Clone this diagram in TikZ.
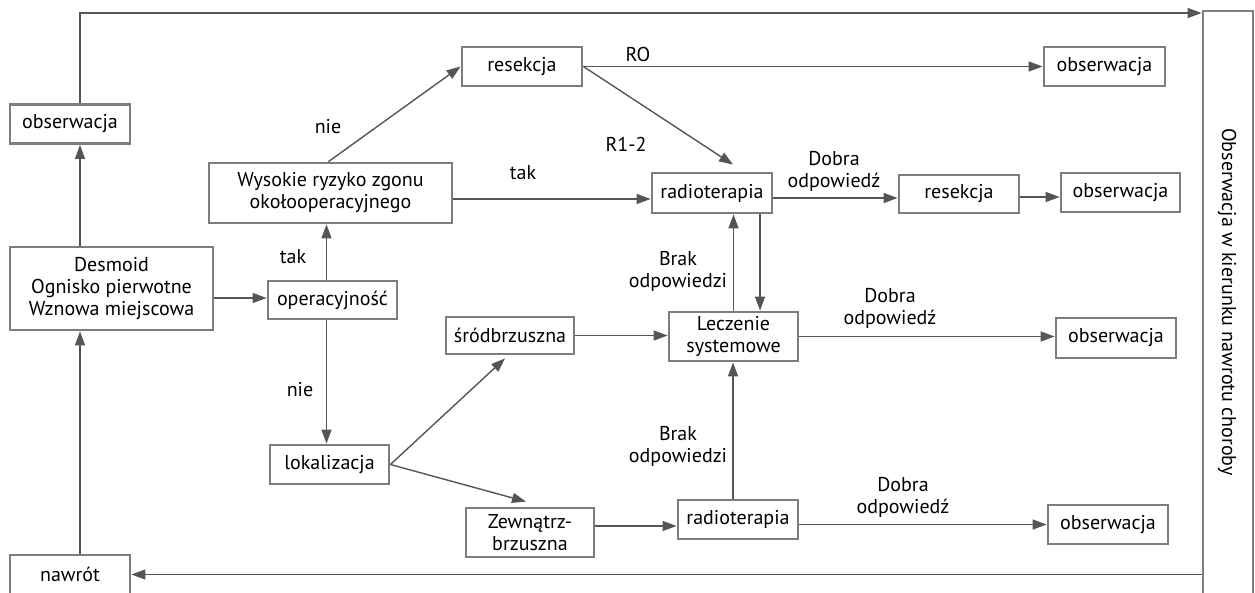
\documentclass[tikz,border=0pt]{standalone}
\usepackage{fontspec}
\setmainfont{PT Sans}
\usetikzlibrary{arrows.meta}
\definecolor{boxgray}{HTML}{7D7D7D}
\definecolor{linegray}{HTML}{555555}
\tikzset{
	flownode/.style = {
		align=center,
		inner sep=0pt,
		text centered,
		text=black
	},
	node_box/.style = {
		flownode,
		rectangle,
		draw=boxgray,
		line width=2.8pt,
		fill=white,
		minimum height=39pt
	},
	node_side/.style = {
		node_box,
		minimum width=50pt,
		minimum height=590pt
	},
	node_lbl/.style = {
		flownode
	},
	edge_line/.style = {
		draw=linegray,
		line width=1.4pt
	},
}
\begin{document}
\begin{tikzpicture}[x=1pt, y=-1pt, ->, >={Triangle[length=14pt,width=10pt]}, font=\fontsize{20}{22}\selectfont]
\useasboundingbox (0,0) rectangle (1255,592);
% boxes
\node [node_side] (obsbox) at (1228,306) {};
\node [node_lbl, rotate=-90] (obsboxtxt) at (1227,302) {Obserwacja w kierunku nawrotu choroby};
\node [node_box, minimum width=120pt] (obsL) at (70,124) {obserwacja};
\node [node_box, minimum width=243pt, minimum height=60pt] (wysokie) at (330.5,193) {Wysokie ryzyko zgonu\\okołooperacyjnego};
\node [node_box, minimum width=203pt, minimum height=83pt] (desmoid) at (111.5,288.5) {Desmoid\\Ognisko pierwotne\\Wznowa miejscowa};
\node [node_box, minimum width=129pt, minimum height=38pt] (oper) at (332.5,300) {operacyjność};
\node [node_box, minimum width=119pt] (lok) at (329.5,464.5) {lokalizacja};
\node [node_box, minimum width=120pt] (nawrot) at (70,574.5) {nawrót};
\node [node_box, minimum width=120pt] (res1) at (522,66.5) {resekcja};
\node [node_box, minimum width=120pt, minimum height=40pt] (radio1) at (712,193) {radioterapia};
\node [node_box, minimum width=121pt] (obs1) at (1104.5,66.5) {obserwacja};
\node [node_box, minimum width=120pt, minimum height=38pt] (res2) at (959,194) {resekcja};
\node [node_box, minimum width=119pt] (obs2) at (1120.5,192.5) {obserwacja};
\node [node_box, minimum width=129pt, minimum height=49pt] (lecz) at (733.5,336.5) {Leczenie\\systemowe};
\node [node_box, minimum width=128pt, minimum height=37pt] (srod) at (510,335.5) {śródbrzuszna};
\node [node_box, minimum width=128pt, minimum height=49pt] (zewn) at (530,532.5) {Zewnątrz-\\brzuszna};
\node [node_box, minimum width=120pt] (radio2) at (738,519.5) {radioterapia};
\node [node_box, minimum width=120pt, minimum height=40pt] (obs3) at (1116,338) {obserwacja};
\node [node_box, minimum width=120pt] (obs4) at (1108,524.5) {obserwacja};
% labels
\node [node_lbl] (l_nie1) at (328,127) {nie};
\node [node_lbl] (l_tak1) at (293,257) {tak};
\node [node_lbl] (l_nie2) at (300,390) {nie};
\node [node_lbl] (l_tak2) at (523,173) {tak};
\node [node_lbl] (l_ro) at (638,54) {RO};
\node [node_lbl] (l_r12) at (626,144) {R1-2};
\node [node_lbl] (l_dobra1) at (834,171) {Dobra\\odpowiedź};
\node [node_lbl] (l_brak1) at (678,271) {Brak\\odpowiedzi};
\node [node_lbl] (l_dobra2) at (890,308) {Dobra\\odpowiedź};
\node [node_lbl] (l_brak2) at (678,446) {Brak\\odpowiedzi};
\node [node_lbl] (l_dobra3) at (903,497) {Dobra\\odpowiedź};
% connectors
\coordinate (lx) at (80,0);
\coordinate (ytop) at (0,13);
\draw [edge_line] (desmoid.north -| lx) -- (obsL.south -| lx);
\draw [edge_line] (nawrot.north -| lx) -- (desmoid.south -| lx);
\draw [edge_line] (obsL.north -| lx) |- (obsbox.west |- ytop);
\draw [edge_line] (obsbox.west |- nawrot) -- (nawrot.east);
\draw [edge_line] ([yshift=-9.5pt]desmoid.east) -- ([yshift=2pt]oper.west);
\draw [edge_line] ([xshift=-6pt]oper.north) -- ([xshift=-6pt]oper.north |- wysokie.south);
\draw [edge_line] ([xshift=-6pt]oper.south) -- ([xshift=-6pt]oper.south |- lok.north);
\draw [edge_line] ([xshift=-2pt]wysokie.north) -- (res1.west);
\draw [edge_line] ([yshift=-6pt]wysokie.east) -- ([yshift=-6pt]radio1.west);
\draw [edge_line] (res1.east) -- (obs1.west);
\draw [edge_line] (res1.east) -- ([xshift=21pt,yshift=7pt]radio1.north);
\draw [edge_line] ([yshift=-5pt]radio1.east) -- ([yshift=-4pt]res2.west);
\draw [edge_line] ([yshift=-3pt]res2.east) -- ([yshift=-4.5pt]obs2.west);
\draw [edge_line] (lecz.north) -- (lecz.north |- radio1.south);
\draw [edge_line] ([xshift=48pt]radio1.south) -- ([xshift=48pt]radio1.south |- lecz.north);
\draw [edge_line] (srod.east) -- (srod.east -| lecz.west);
\draw [edge_line] (lok.east) -- ([xshift=-5pt,yshift=-3pt]srod.south);
\draw [edge_line] (lok.east) -- ([xshift=-4pt,yshift=5pt]zewn.north);
\draw [edge_line] ([yshift=6.5pt]zewn.east) -- ([yshift=-6.5pt]radio2.west);
\draw [edge_line] ([xshift=-5pt]radio2.north) -- ([xshift=-5pt]radio2.north |- lecz.south);
\draw [edge_line] (lecz.east) -- (lecz.east -| obs3.west);
\draw [edge_line] (radio2.east |- obs4.west) -- (obs4.west);
\end{tikzpicture}
\end{document}
